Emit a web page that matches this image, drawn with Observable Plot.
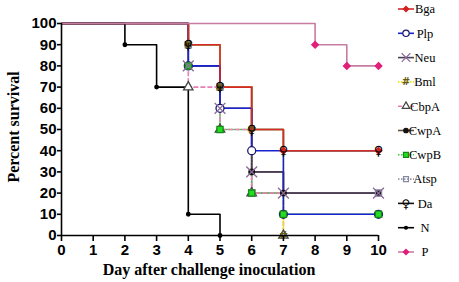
<!DOCTYPE html>
<html><head><meta charset="utf-8">
<script src="https://cdn.jsdelivr.net/npm/d3@7"></script>
<script src="https://cdn.jsdelivr.net/npm/@observablehq/plot@0.6"></script>
<style>body{margin:0;background:#fff}</style>
</head><body><div id="chart"></div>
<script>
// Survival data: [day, percent survival]
const Bga  = [[0,100],[4,90],[5,70],[6,50],[7,40],[10,40]];
const Plp  = [[0,100],[4,80],[5,60],[6,40],[7,10],[10,10]];
const Neu  = [[0,100],[4,80],[5,60],[6,30],[7,20],[10,20]];
const Bml  = [[0,100],[4,90],[5,70],[6,50],[7,0]];
const CbpA = [[0,100],[4,70],[5,50],[6,20],[7,0]];
const CwpA = [[0,100],[4,90],[5,70],[6,30],[7,20],[10,20]];
const CwpB = [[0,100],[4,80],[5,50],[6,20],[7,10],[10,10]];
const Atsp = [[0,100],[4,90],[5,70],[6,20],[10,20]];
const Da   = [[0,100],[4,90],[5,70],[6,50],[7,40],[10,40]];
const N    = [[0,100],[2,90],[3,70],[4,10],[5,0]];
const P    = [[0,100],[8,90],[9,80],[10,80]];

const groupNames = ["Bga","Plp","Neu","Bml","CbpA","CwpA","CwpB","Atsp","Da","N","P"];
const groupData = [Bga,Plp,Neu,Bml,CbpA,CwpA,CwpB,Atsp,Da,N,P];
const xTicks = [0,1,2,3,4,5,6,7,8,9,10];
const yTicks = [0,10,20,30,40,50,60,70,80,90,100];

const styles = {
  Bga:  {line:"#d42a2a", dash:null,  mk:{type:"dot", symbol:"diamond2", r:3, fill:"#d42020", stroke:"#d42020"}},
  Plp:  {line:"#1a22d0", dash:null,  mk:{type:"dot", symbol:"circle", r:4, fill:"#fff", stroke:"#1a1a6e"}},
  Neu:  {line:"#4a4058", dash:null,  mk:{type:"dot", symbol:"times", r:5, fill:"none", stroke:"#8a6a9a"}},
  Bml:  {line:"#e4e41c", dash:"1.5,1.5", mk:{type:"text", text:"#", color:"#6a5a10", size:11}},
  CbpA: {line:"#e87fb5", dash:"4,3", mk:{type:"dot", symbol:"triangle", r:3.5, fill:"#fff", stroke:"#444"}},
  CwpA: {line:"#6a5038", dash:null,  mk:{type:"dot", symbol:"circle", r:2.8, fill:"#111", stroke:"#111"}},
  CwpB: {line:"#38c838", dash:"1.5,1.5", mk:{type:"dot", symbol:"square", r:3.5, fill:"#22dd22", stroke:"#188818"}},
  Atsp: {line:"#9a9ab4", dash:"1.5,1.5", mk:{type:"dot", symbol:"square", r:3.5, fill:"none", stroke:"#8888a0"}},
  Da:   {line:"#111111", dash:null,  mk:{type:"text", text:"♀", color:"#000", size:13}},
  N:    {line:"#000000", dash:null,  mk:{type:"dot", symbol:"circle", r:1.8, fill:"#000", stroke:"#000"}},
  P:    {line:"#c87ca2", dash:null,  mk:{type:"dot", symbol:"diamond2", r:3, fill:"#e0207a", stroke:"#e0207a"}}
};

const rowsFor = name => groupData[groupNames.indexOf(name)].map(([day,pct]) => ({name, day, pct}));

// line draw order: P on top
const lineOrder = ["Da","Atsp","CwpB","CwpA","CbpA","Bml","Neu","Plp","Bga","N","P"];
// marker draw order: Da on top
const markOrder = ["Bga","Plp","CwpA","CbpA","Atsp","CwpB","Neu","Bml","N","P","Da"];

const marks = [];
for (const name of lineOrder) {
  const st = styles[name];
  marks.push(Plot.line(rowsFor(name), {x:"day", y:"pct", curve:"step-after", stroke: st.line, strokeWidth: 1.6, strokeDasharray: st.dash}));
}
for (const name of markOrder) {
  const st = styles[name];
  const pts = rowsFor(name).filter(d => d.day > 0);
  if (st.mk.type === "dot") {
    marks.push(Plot.dot(pts, {x:"day", y:"pct", symbol: st.mk.symbol, r: st.mk.r, fill: st.mk.fill, stroke: st.mk.stroke, strokeWidth: 1.3}));
  } else {
    marks.push(Plot.text(pts, {x:"day", y:"pct", text: () => st.mk.text, fill: st.mk.color, fontSize: st.mk.size, fontWeight:"bold", fontFamily:"DejaVu Sans"}));
  }
}
marks.push(Plot.ruleX([0], {y1:0, y2:100, stroke:"#000", strokeWidth:1.6}));
marks.push(Plot.ruleY([0], {stroke:"#000", strokeWidth:1.6}));
marks.push(Plot.axisX({ticks: xTicks, tickSize: 6, tickPadding: 3, tickFormat: d => String(d), label: null, fontSize: 15, fontWeight:"bold"}));
marks.push(Plot.axisY({ticks: yTicks, tickSize: 4, tickPadding: 1, tickFormat: d => String(d), label: null, fontSize: 15, fontWeight:"bold"}));

const chart = Plot.plot({
  width: 459, height: 282,
  marginLeft: 61, marginRight: 81, marginTop: 23, marginBottom: 47,
  x: {domain: [0,10]},
  y: {domain: [0,100]},
  style: {fontFamily: "Liberation Sans, Arial, sans-serif", background: "#fff", color:"#000", overflow:"visible"},
  marks
});
document.getElementById("chart").appendChild(chart);

const svg = d3.select(chart);
svg.selectAll("[aria-label='x-axis tick'] path, [aria-label='y-axis tick'] path").attr("stroke-width", 1.6);
// axis titles
svg.append("text").attr("x", 209).attr("y", 275).attr("text-anchor","middle")
  .style("font-family","Liberation Serif, Times New Roman, serif").style("font-weight","bold").style("font-size","16px")
  .text("Day after challenge inoculation");
svg.append("text").attr("transform","translate(19,127) rotate(-90)").attr("text-anchor","middle")
  .style("font-family","Liberation Serif, Times New Roman, serif").style("font-weight","bold").style("font-size","16px")
  .text("Percent survival");

// legend
const lg = svg.append("g");
groupNames.forEach((name, i) => {
  const st = styles[name];
  const y = 9 + i * 24.3;
  const g = lg.append("g").attr("transform", `translate(0,${y})`);
  g.append("line").attr("x1",398).attr("x2",414).attr("y1",0).attr("y2",0)
    .attr("stroke", st.line).attr("stroke-width",1.6).attr("stroke-dasharray", st.dash);
  if (st.mk.type === "dot") {
    const sym = {circle: d3.symbolCircle, diamond2: d3.symbolDiamond2, times: d3.symbolTimes, triangle: d3.symbolTriangle, square: d3.symbolSquare}[st.mk.symbol];
    const rr = st.mk.r * 0.8;
    g.append("path").attr("transform","translate(406,0)")
      .attr("d", d3.symbol(sym, Math.PI * rr * rr)())
      .attr("fill", st.mk.fill).attr("stroke", st.mk.stroke).attr("stroke-width",1.2);
  } else {
    g.append("text").attr("x",406).attr("y",0).attr("dy","0.35em").attr("text-anchor","middle")
      .style("font-family","DejaVu Sans").style("font-weight","bold").style("font-size", (st.mk.size - 1) + "px")
      .attr("fill", st.mk.color).text(st.mk.text);
  }
  g.append("text").attr("x",425).attr("y",0).attr("dy","0.35em")
    .style("font-family","Liberation Serif, Times New Roman, serif").style("font-size","12.5px")
    .text(name);
});
</script></body></html>
